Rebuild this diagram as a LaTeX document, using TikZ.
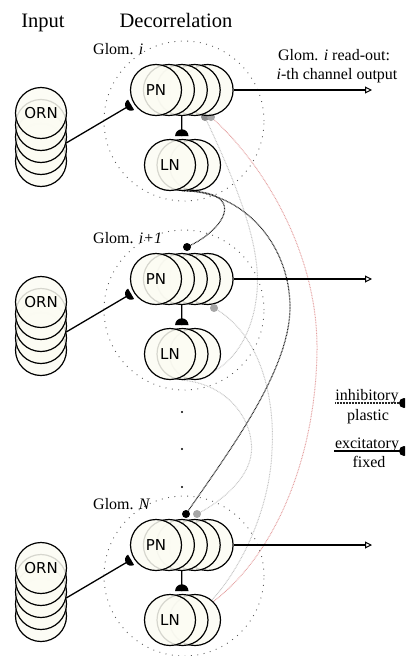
\documentclass[tikz,border=0pt]{standalone}
\usepackage{fontspec}
\setmainfont{Liberation Serif}
\newfontfamily\lblfont{DejaVu Sans}
\usetikzlibrary{arrows.meta,calc}
\pgfdeclarelayer{bg}
\pgfsetlayers{bg,main}
\definecolor{cellfill}{RGB}{252,252,243}
\definecolor{pinkline}{RGB}{228,160,160}
\definecolor{grayline}{RGB}{195,195,195}
\definecolor{areadot}{RGB}{90,90,90}
\tikzset{
  cell/.style={circle, draw=black, line width=1.2pt, fill=cellfill, fill opacity=0.85, text opacity=1,
    minimum size=51pt, inner sep=0pt, font=\lblfont\fontsize{15}{15}\selectfont},
  glomarea/.style={circle, draw=areadot, line width=0.9pt, dash pattern=on 0.9pt off 5.5pt,
    minimum size=160pt, inner sep=0pt},
  conn/.style={line width=1.3pt},
  inhibk/.style={line width=1.2pt, dash pattern=on 0.8pt off 0.7pt, black!85},
  inhibg/.style={line width=1pt, dash pattern=on 0.8pt off 0.8pt, grayline},
  inhibp/.style={line width=1pt, dash pattern=on 0.8pt off 0.8pt, pinkline},
  txt/.style={font=\fontsize{16}{19}\selectfont, inner sep=0pt},
  heading/.style={font=\fontsize{20.5}{24}\selectfont, inner sep=0pt},
  outarrow/.style={conn, -{Triangle[open, length=7pt, width=7pt, line width=1pt]}},
}
\newcommand\glomunit[3]{%
\begin{scope}[shift={(156,-#2)}]
  \node[glomarea] (area-#1) at (28,-31) {};
  \node[txt, anchor=base west] (lab-#1) at (-63,36) {#3};
  \foreach \k in {4,3,2,1,0}
    \node[cell] (orn-#1-\k) at (-115,-23-12*\k) {\ifnum\k=0 ORN\fi};
  \foreach \k in {4,3,2,1,0}
    \node[cell] (pn-#1-\k) at (12.9*\k,0) {\ifnum\k=0 PN\fi};
  \foreach \k in {2,1,0}
    \node[cell] (ln-#1-\k) at (14+12.5*\k,-75) {\ifnum\k=0 LN\fi};
  % ORN -> PN excitatory
  \coordinate (mk-#1) at (210.6:29);
  \draw[conn] (orn-#1-2.-13) -- (mk-#1);
  \begin{scope}[shift={(210.6:29)}, rotate=30.6]
    \fill (0,6) arc[start angle=90, end angle=270, radius=6] -- cycle;
  \end{scope}
  % PN -> LN
  \coordinate (lk-#1) at (25.8,-46);
  \draw[conn] (pn-#1-2.south) -- (lk-#1);
  \fill (19.1,-46) arc[start angle=180, end angle=0, radius=6.7] -- cycle;
  % output
  \coordinate (out-#1) at (216,0);
  \draw[outarrow] (pn-#1-4.east) -- (out-#1);
\end{scope}}
\begin{document}
\begin{tikzpicture}[x=1pt,y=1pt]
\useasboundingbox (0,0) rectangle (405,-656);
\clip (0,0) rectangle (405,-656);

\node[heading, anchor=base] (hin) at (43,-27) {Input};
\node[heading, anchor=base] (hdec) at (176,-27) {Decorrelation};
\node[txt, anchor=base] (ro1) at (334,-60) {Glom. \textit{i} read-out:};
\node[txt, anchor=base] (ro2) at (337,-79) {\textit{i}-th channel output};

\glomunit{i}{90}{Glom. \textit{i}}
\glomunit{ip}{279}{Glom. \textit{i+1}}
\glomunit{N}{545}{Glom. \textit{N}}

% synapse points
\coordinate (dk-ip) at (187,-247);
\coordinate (dk-N) at (186,-514);
\coordinate (dg-i) at (205,-117);
\coordinate (dp-i) at (211,-117);
\coordinate (dg-ip) at (214,-308);
\coordinate (dg-N) at (197,-514);

\begin{pgfonlayer}{bg}
  \draw[inhibg] (ln-ip-2.-40) .. controls (250,-350) and (262,-300) .. (256,-260)
        .. controls (250,-215) and (225,-160) .. (dg-i);
  \draw[inhibg] (dg-ip) .. controls (262,-335) and (275,-400) .. (272,-450)
        .. controls (270,-510) and (240,-570) .. (ln-N-2.50);
  \draw[inhibg] (ln-ip-1.south) .. controls (235,-385) and (258,-430) .. (250,-460)
        .. controls (243,-485) and (215,-505) .. (dg-N);
  \draw[inhibp] (dp-i) .. controls (260,-160) and (318,-250) .. (317,-350)
        .. controls (316,-450) and (280,-550) .. (ln-N-2.45);
  \draw[inhibk] (ln-i-1.south) .. controls (250,-190) and (225,-230) .. (dk-ip);
  \draw[inhibk] (ln-i-1.-80) .. controls (250,-195) and (290,-250) .. (290,-307)
        .. controls (290,-370) and (230,-450) .. (dk-N);
  \fill[black!45] (dg-i) circle (4);
  \fill[black!35] (dp-i) circle (4);
\end{pgfonlayer}

\fill (dk-ip) circle (4);
\fill (dk-N) circle (4);
\fill[black!35] (dg-ip) circle (4);
\fill[black!35] (dg-N) circle (4);

% vertical ellipsis
\node[circle, fill=black, inner sep=0pt, minimum size=2.4pt] (vd1) at (182,-412) {};
\node[circle, fill=black, inner sep=0pt, minimum size=2.4pt] (vd2) at (182,-449) {};
\node[circle, fill=black, inner sep=0pt, minimum size=2.4pt] (vd3) at (182,-487) {};

% legend
\node[txt, anchor=base] (leg1) at (367,-400) {inhibitory};
\node[txt, anchor=base] (leg2) at (368,-420) {plastic};
\node[txt, anchor=base] (leg3) at (367,-448) {excitatory};
\node[txt, anchor=base] (leg4) at (369,-467) {fixed};
\coordinate (lgA) at (335,-403);
\coordinate (lgB) at (404,-403);
\coordinate (lgC) at (334,-451);
\coordinate (lgD) at (404,-451);
\draw[inhibk] (lgA) -- (lgB);
\fill (lgB) circle (5);
\draw[line width=1.1pt] (lgC) -- (lgD);
\fill (lgD) circle (5);
\end{tikzpicture}
\end{document}
